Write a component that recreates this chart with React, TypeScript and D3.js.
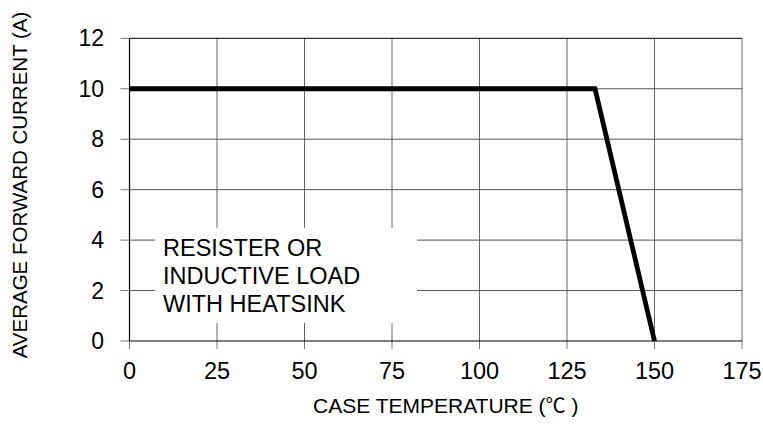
import React from "react";
import * as d3 from "d3";

const temps = [0, 133, 150];
const currents = [10, 10, 0];
const xTicks = [0, 25, 50, 75, 100, 125, 150, 175];
const yTicks = [0, 2, 4, 6, 8, 10, 12];
const noteLines = ["RESISTER OR", "INDUCTIVE LOAD", "WITH HEATSINK"];
const xTitleMain = "CASE TEMPERATURE (";
const xTitleUnit = "℃";
const xTitleEnd = " )";
const yTitle = "AVERAGE FORWARD CURRENT (A)";

const W = 763;
const H = 424;
const M = { left: 129.5, right: 742, top: 38.3, bottom: 341 };
const FONT = "'Liberation Sans', Arial, sans-serif";

export default function App() {
  const x = d3.scaleLinear().domain([0, 175]).range([M.left, M.right]);
  const y = d3.scaleLinear().domain([0, 12]).range([M.bottom, M.top]);
  const pts = temps.map((t, i) => [t, currents[i]] as [number, number]);
  const line = d3
    .line<[number, number]>()
    .x((d) => x(d[0]))
    .y((d) => y(d[1]));

  return (
    <svg
      width={W}
      height={H}
      style={{ position: "absolute", left: 0, top: 0, background: "#fff" }}
      fontFamily={FONT}
    >
      <rect x={0} y={0} width={W} height={H} fill="#fff" />
      {xTicks.slice(1).map((t) => (
        <line
          key={"gx" + t}
          x1={x(t)}
          x2={x(t)}
          y1={M.top}
          y2={M.bottom}
          stroke="#666"
          strokeWidth={1}
        />
      ))}
      {yTicks.slice(1).map((t) => (
        <line
          key={"gy" + t}
          x1={M.left}
          x2={M.right}
          y1={y(t)}
          y2={y(t)}
          stroke={t === 12 ? "#000" : "#555"}
          strokeWidth={1}
        />
      ))}
      {xTicks.map((t) => (
        <line
          key={"tx" + t}
          x1={x(t)}
          x2={x(t)}
          y1={M.bottom}
          y2={M.bottom + 8}
          stroke="#777"
          strokeWidth={1}
        />
      ))}
      {yTicks.map((t) => (
        <line
          key={"ty" + t}
          x1={M.left - 9}
          x2={M.left}
          y1={y(t)}
          y2={y(t)}
          stroke="#777"
          strokeWidth={1}
        />
      ))}
      <line x1={M.left} x2={M.left} y1={M.top} y2={M.bottom} stroke="#000" strokeWidth={1.2} />
      <line x1={M.left} x2={M.right} y1={M.bottom} y2={M.bottom} stroke="#000" strokeWidth={1.2} />
      <rect x={155} y={228} width={262} height={95} fill="#fff" />
      {noteLines.map((s, i) => (
        <text key={s} x={163} y={255.7 + i * 28} fontSize={23.5} fill="#000">
          {s}
        </text>
      ))}
      <path
        d={line(pts) || ""}
        fill="none"
        stroke="#000"
        strokeWidth={4.8}
        strokeLinejoin="miter"
      />
      {xTicks.map((t) => (
        <text key={"lx" + t} x={x(t)} y={379} fontSize={23.5} textAnchor="middle" fill="#000">
          {t}
        </text>
      ))}
      {yTicks.map((t) => (
        <text key={"ly" + t} x={104} y={y(t) + 8} fontSize={23} textAnchor="end" fill="#000">
          {t}
        </text>
      ))}
      <text x={313} y={413} fontSize={21} fill="#000">
        <tspan>{xTitleMain}</tspan>
        <tspan fontFamily="'Noto Sans CJK SC', sans-serif" fontSize={20}>
          {xTitleUnit}
        </tspan>
        <tspan>{xTitleEnd}</tspan>
      </text>
      <text
        transform={`translate(27,185) rotate(-90)`}
        fontSize={20.5}
        textAnchor="middle"
        fill="#000"
      >
        {yTitle}
      </text>
    </svg>
  );
}
